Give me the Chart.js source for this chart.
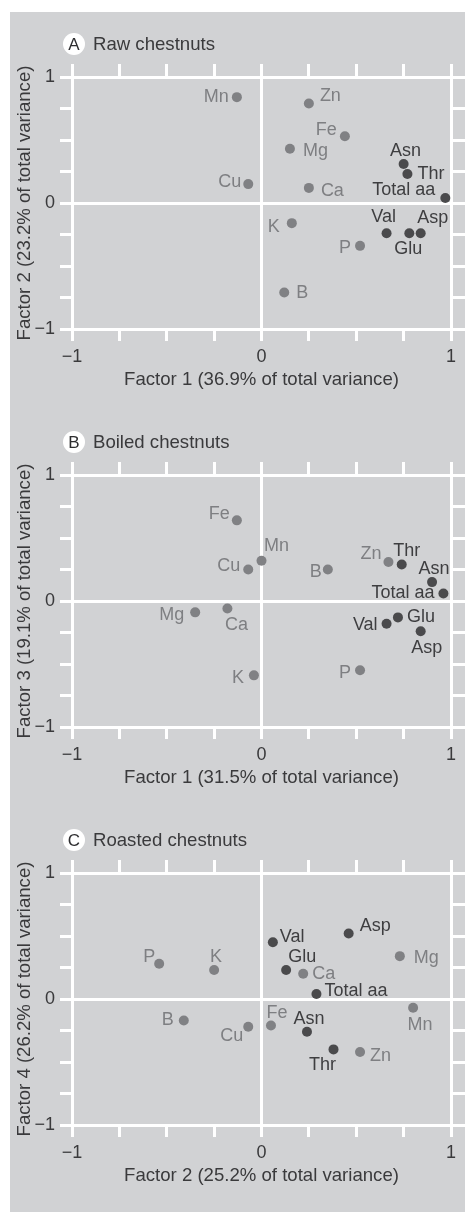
<!DOCTYPE html>
<html><head><meta charset="utf-8">
<script src="https://cdn.jsdelivr.net/npm/chart.js@4.4.1/dist/chart.umd.min.js"></script>
<style>
html,body{margin:0;padding:0;background:#ffffff;}
#page{position:relative;width:465px;height:1212px;overflow:hidden;}
#bg{position:absolute;left:10px;top:12px;width:455px;height:1200px;background:#d1d2d4;}
.pc{position:absolute;left:0;width:465px;height:400px;}
canvas{display:block;}
</style></head><body>
<div id="page"><div id="bg"></div>
<div class="pc" style="top:0px"><canvas id="cA" width="465" height="400"></canvas></div>
<div class="pc" style="top:398px"><canvas id="cB" width="465" height="400"></canvas></div>
<div class="pc" style="top:796px"><canvas id="cC" width="465" height="400"></canvas></div>
</div>
<script>
// ---------- data ----------
const panelLetters = ['A', 'B', 'C'];
const panelTitles = ['Raw chestnuts', 'Boiled chestnuts', 'Roasted chestnuts'];
const xTitles = ['Factor 1 (36.9% of total variance)', 'Factor 1 (31.5% of total variance)', 'Factor 2 (25.2% of total variance)'];
const yTitles = ['Factor 2 (23.2% of total variance)', 'Factor 3 (19.1% of total variance)', 'Factor 4 (26.2% of total variance)'];
const tickValues = [-1, 0, 1];
const tickLabels = ['\u22121', '0', '1'];
const aminoAcids = ['Asn', 'Thr', 'Total aa', 'Val', 'Glu', 'Asp'];

const namesA = ['Mn', 'Zn', 'Fe', 'Mg', 'Cu', 'Ca', 'K', 'P', 'B', 'Asn', 'Thr', 'Total aa', 'Val', 'Glu', 'Asp'];
const xA = [-0.13, 0.25, 0.44, 0.15, -0.07, 0.25, 0.16, 0.52, 0.12, 0.75, 0.77, 0.97, 0.66, 0.78, 0.84];
const yA = [0.84, 0.79, 0.53, 0.43, 0.15, 0.12, -0.16, -0.34, -0.71, 0.31, 0.23, 0.04, -0.24, -0.24, -0.24];

const namesB = ['Fe', 'Mn', 'Cu', 'B', 'Zn', 'Thr', 'Asn', 'Total aa', 'Mg', 'Ca', 'Val', 'Glu', 'Asp', 'P', 'K'];
const xB = [-0.13, 0.00, -0.07, 0.35, 0.67, 0.74, 0.90, 0.96, -0.35, -0.18, 0.66, 0.72, 0.84, 0.52, -0.04];
const yB = [0.64, 0.32, 0.25, 0.25, 0.31, 0.29, 0.15, 0.06, -0.09, -0.06, -0.18, -0.13, -0.24, -0.55, -0.59];

const namesC = ['P', 'K', 'Val', 'Asp', 'Mg', 'Glu', 'Ca', 'Total aa', 'Mn', 'B', 'Cu', 'Fe', 'Asn', 'Thr', 'Zn'];
const xC = [-0.54, -0.25, 0.06, 0.46, 0.73, 0.13, 0.22, 0.29, 0.80, -0.41, -0.07, 0.05, 0.24, 0.38, 0.52];
const yC = [0.28, 0.23, 0.45, 0.52, 0.34, 0.23, 0.20, 0.04, -0.07, -0.17, -0.22, -0.21, -0.26, -0.40, -0.42];

// ---------- label placement (style, not data): [align, dx, dy] ----------
const placeA = {
  'Mn': ['r', -8, 0], 'Zn': ['l', 11, -7], 'Fe': ['r', -8, -6], 'Mg': ['l', 13, 2], 'Cu': ['r', -7, -2],
  'Ca': ['l', 12, 3], 'K': ['r', -12, 4], 'P': ['r', -9, 2], 'B': ['l', 12, 1], 'Asn': ['c', 2, -13],
  'Thr': ['l', 10, 0], 'Total aa': ['r', -10, -8], 'Val': ['c', -3, -16], 'Glu': ['c', -1, 16], 'Asp': ['c', 12, -15]
};
const placeB = {
  'Fe': ['r', -7, -6], 'Mn': ['c', 15, -15], 'Cu': ['r', -8, -3], 'B': ['r', -6, 3], 'Zn': ['r', -7, -8],
  'Thr': ['c', 5, -13], 'Asn': ['c', 2, -13], 'Total aa': ['r', -9, 0], 'Mg': ['r', -11, 3], 'Ca': ['c', 9, 16],
  'Val': ['r', -9, 1], 'Glu': ['l', 9, 0], 'Asp': ['c', 6, 17], 'P': ['r', -9, 3], 'K': ['r', -10, 3]
};
const placeC = {
  'P': ['r', -4, -7], 'K': ['c', 2, -13], 'Val': ['l', 7, -5], 'Asp': ['l', 11, -7], 'Mg': ['l', 14, 2],
  'Glu': ['c', 16, -13], 'Ca': ['l', 9, 0], 'Total aa': ['l', 8, -3], 'Mn': ['c', 7, 17], 'B': ['r', -10, 0],
  'Cu': ['r', -5, 9], 'Fe': ['c', 6, -12], 'Asn': ['c', 2, -13], 'Thr': ['c', -11, 16], 'Zn': ['l', 10, 4]
};

const FONT = '"Liberation Sans", Arial, Helvetica, sans-serif';
const TXT = '#3a3a3c';
const LIGHT = '#808184';
const DARK = '#4a4a4c';
const LIGHT_LBL = '#7e7f82';
const DARK_LBL = '#3e3e40';

Chart.defaults.font.family = FONT;
Chart.defaults.devicePixelRatio = 1;

function tickLab(v) {
  const k = tickValues.indexOf(v);
  return k >= 0 ? tickLabels[k] : '';
}
const clear = 'rgba(0,0,0,0)';
function gridColor(c) { return (c.tick && c.tick.value === 0) ? '#ffffff' : clear; }

function makeChart(id, i, names, xs, ys, place) {
  const el = [], aa = [];
  names.forEach((n, k) => {
    const p = { x: xs[k], y: ys[k], name: n };
    (aminoAcids.includes(n) ? aa : el).push(p);
  });
  const plugin = {
    id: 'ptlabels' + i,
    afterDatasetsDraw(chart) {
      const ctx = chart.ctx;
      ctx.save();
      ctx.font = '18px ' + FONT;
      ctx.textBaseline = 'middle';
      chart.data.datasets.forEach((ds, di) => {
        const meta = chart.getDatasetMeta(di);
        ctx.fillStyle = di === 0 ? LIGHT_LBL : DARK_LBL;
        meta.data.forEach((pt, j) => {
          const name = ds.data[j].name;
          const p = place[name] || ['l', 10, 0];
          ctx.textAlign = p[0] === 'l' ? 'left' : (p[0] === 'r' ? 'right' : 'center');
          ctx.fillText(name, pt.x + p[1], pt.y + p[2]);
        });
      });
      // panel heading
      const ca = chart.chartArea;
      const cx = ca.left + 2, cy = ca.top - 33;
      ctx.beginPath();
      ctx.arc(cx, cy, 11, 0, Math.PI * 2);
      ctx.fillStyle = '#ffffff';
      ctx.fill();
      ctx.fillStyle = '#2e2e30';
      ctx.textAlign = 'center';
      ctx.font = '17px ' + FONT;
      ctx.fillText(panelLetters[i], cx, cy + 1);
      ctx.textAlign = 'left';
      ctx.font = '18.6px ' + FONT;
      ctx.fillStyle = TXT;
      ctx.fillText(panelTitles[i], cx + 19, cy + 1);
      ctx.restore();
    }
  };
  const tickFont = { family: FONT, size: 18 };
  const titleFont = { family: FONT, size: 18.6 };
  return new Chart(document.getElementById(id), {
    type: 'scatter',
    data: {
      datasets: [
        { label: 'Elements', data: el, backgroundColor: LIGHT, borderWidth: 0, pointRadius: 5, pointHoverRadius: 5, clip: false },
        { label: 'Amino acids', data: aa, backgroundColor: DARK, borderWidth: 0, pointRadius: 5, pointHoverRadius: 5, clip: false }
      ]
    },
    options: {
      responsive: false,
      animation: false,
      devicePixelRatio: 1,
      layout: { padding: 0 },
      plugins: { legend: { display: false }, tooltip: { enabled: false }, title: { display: false } },
      scales: {
        x: {
          type: 'linear', position: 'bottom', min: -1, max: 1,
          ticks: { stepSize: 0.25, autoSkip: false, maxRotation: 0, minRotation: 0, padding: 5, color: TXT, font: tickFont, callback: tickLab },
          grid: { color: gridColor, lineWidth: 3, drawTicks: true, tickColor: '#ffffff', tickWidth: 3, tickLength: 12 },
          border: { display: true, color: '#ffffff', width: 3 },
          title: { display: true, text: xTitles[i], color: TXT, font: titleFont, padding: { top: 0, bottom: 9 } },
          afterFit: s => { s.height = 71; }
        },
        x2: {
          type: 'linear', position: 'top', min: -1, max: 1,
          ticks: { stepSize: 0.25, autoSkip: false, display: false },
          grid: { drawOnChartArea: false, color: clear, tickColor: '#ffffff', tickWidth: 3, tickLength: 13 },
          border: { display: true, color: '#ffffff', width: 3 },
          afterFit: s => { s.height = 77; }
        },
        y: {
          type: 'linear', position: 'left', min: -1, max: 1,
          ticks: { stepSize: 0.25, autoSkip: false, padding: 5, color: TXT, font: tickFont, callback: tickLab },
          grid: { color: gridColor, lineWidth: 3, drawTicks: true, tickColor: '#ffffff', tickWidth: 3, tickLength: 12 },
          border: { display: true, color: '#ffffff', width: 3 },
          title: { display: true, text: yTitles[i], color: TXT, font: titleFont, padding: { top: 14, bottom: 0 } },
          afterFit: s => { s.width = 72; }
        },
        y2: {
          type: 'linear', position: 'right', min: -1, max: 1,
          ticks: { stepSize: 0.25, autoSkip: false, display: false },
          grid: { drawOnChartArea: false, color: clear, tickColor: '#ffffff', tickWidth: 3, tickLength: 14 },
          border: { display: true, color: '#ffffff', width: 3 },
          afterFit: s => { s.width = 14; }
        }
      }
    },
    plugins: [plugin]
  });
}

makeChart('cA', 0, namesA, xA, yA, placeA);
makeChart('cB', 1, namesB, xB, yB, placeB);
makeChart('cC', 2, namesC, xC, yC, placeC);
</script>
</body></html>
